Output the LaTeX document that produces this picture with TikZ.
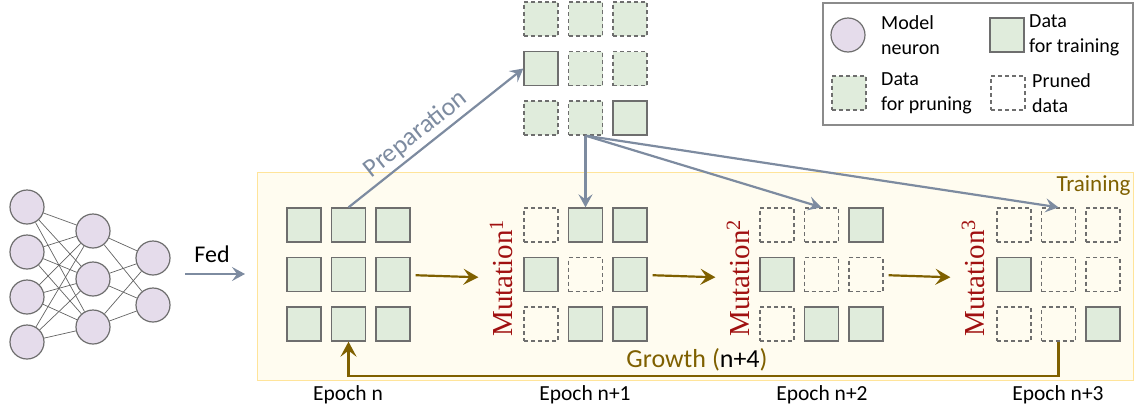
\documentclass[tikz,border=0pt]{standalone}
\usepackage{fontspec}
\newfontfamily\calibri{Carlito}
\newfontfamily\cambria{Liberation Serif}
\usetikzlibrary{arrows.meta}

\definecolor{neuronfill}{HTML}{E5DCEB}
\definecolor{datafill}{HTML}{E0ECDC}
\definecolor{edgegray}{HTML}{6E6E6E}
\definecolor{slate}{HTML}{7D8BA0}
\definecolor{goldbrown}{HTML}{7F6000}
\definecolor{stagefill}{HTML}{FFFCF0}
\definecolor{stageline}{HTML}{FFE49A}
\definecolor{mutred}{HTML}{A01010}

% 3x3 grid of data cells: name, x of first column, y of first row, nine styles
\newcommand{\datagrid}[4]{%
  \foreach \t [count=\i from 0] in {#4} {
    \pgfmathtruncatemacro{\gr}{div(\i,3)+1}
    \pgfmathtruncatemacro{\gc}{mod(\i,3)+1}
    \node[\t] (#1-\gr\gc) at ({#2+(\gc-1)*44.5},{#3+(\gr-1)*49.5}) {};
  }}

\begin{document}
\begin{tikzpicture}[x=1pt,y=-1pt,
  neuron/.style={circle, draw=edgegray, fill=neuronfill, line width=1.2pt, minimum size=34pt, inner sep=0pt},
  synapse/.style={draw=edgegray!90!black, line width=0.7pt},
  trainbox/.style={draw=edgegray, fill=datafill, line width=1.3pt, minimum size=34pt, inner sep=0pt},
  prunebox/.style={trainbox, dash pattern=on 4pt off 3pt},
  cutbox/.style={prunebox, fill=none},
  stage/.style={draw=stageline, fill=stagefill, line width=1.2pt, inner sep=0pt},
  preparrow/.style={draw=slate, line width=2.2pt, -{Stealth[length=13pt,width=14pt,inset=5pt]}},
  growarrow/.style={draw=goldbrown, line width=2.2pt, -{Stealth[length=15pt,width=16pt,inset=6pt]}},
  mutlabel/.style={rotate=90, text=mutred, inner sep=1pt, font=\cambria\fontsize{29}{33}\selectfont},
  plain/.style={font=\calibri\fontsize{21.5}{25}\selectfont},
  keytext/.style={anchor=west, align=left, inner sep=0pt, font=\calibri\fontsize{20}{25}\selectfont}]
  \useasboundingbox (0,0) rectangle (1135,410);

  % training area
  \node[stage, anchor=north west, minimum width=876pt, minimum height=208pt] (stage) at (257,172) {};
  \node[plain, text=goldbrown, anchor=east, font=\calibri\fontsize{23}{27}\selectfont] (trainlbl) at (1134,186) {Training};

  % model
  \node[neuron] (n11) at (27,207) {};
  \node[neuron] (n12) at (27,252) {};
  \node[neuron] (n13) at (27,297) {};
  \node[neuron] (n14) at (27,342) {};
  \node[neuron] (n21) at (93,231) {};
  \node[neuron] (n22) at (93,279) {};
  \node[neuron] (n23) at (93,327) {};
  \node[neuron] (n31) at (153,258) {};
  \node[neuron] (n32) at (153,305) {};
  \foreach \a in {1,...,4}
    \foreach \b in {1,2,3}
      \draw[synapse] (n1\a) -- (n2\b);
  \foreach \a in {1,2,3}
    \foreach \b in {1,2}
      \draw[synapse] (n2\a) -- (n3\b);

  % fed
  \node[plain, font=\calibri\fontsize{24}{28}\selectfont] (fed) at (212,254) {Fed};
  \coordinate (fedL) at (185,274);
  \coordinate (fedR) at (245,274);
  \draw[preparrow] (fedL) -- (fedR);

  % data grids
  \datagrid{pool}{541}{19}{prunebox,prunebox,prunebox,trainbox,prunebox,prunebox,prunebox,prunebox,trainbox}
  \datagrid{g1}{304}{225}{trainbox,trainbox,trainbox,trainbox,trainbox,trainbox,trainbox,trainbox,trainbox}
  \datagrid{g2}{541}{225}{cutbox,trainbox,trainbox,trainbox,cutbox,trainbox,cutbox,trainbox,trainbox}
  \datagrid{g3}{777}{225}{cutbox,cutbox,trainbox,trainbox,cutbox,cutbox,cutbox,trainbox,trainbox}
  \datagrid{g4}{1014}{225}{cutbox,cutbox,cutbox,trainbox,cutbox,cutbox,cutbox,cutbox,trainbox}

  % mutations
  \node[mutlabel] (mut1) at (501,278) {Mutation\textsuperscript{1}};
  \node[mutlabel] (mut2) at (738,278) {Mutation\textsuperscript{2}};
  \node[mutlabel] (mut3) at (973,278) {Mutation\textsuperscript{3}};
  \draw[growarrow, shorten <=5pt, shorten >=10pt] (g1-23) -- (mut1);
  \draw[growarrow, shorten <=5pt, shorten >=10pt] (g2-23) -- (mut2);
  \draw[growarrow, shorten <=5pt, shorten >=10pt] (g3-23) -- (mut3);

  % preparation
  \draw[preparrow] (g1-12.north) -- node[pos=0.44, sloped, above=0pt, text=slate, font=\calibri\fontsize{26}{30}\selectfont] (preplbl) {Preparation} (pool-21.west);
  \draw[preparrow] (pool-32.south) -- (g2-12.north);
  \draw[preparrow] (pool-32.south) -- (g3-12.north);
  \draw[preparrow] (pool-32.south) -- (g4-12.north);

  % growth
  \coordinate (gback) at (700,376);
  \draw[growarrow] (g4-32.south) |- (gback) -| (g1-32.south);
  \node[plain, text=goldbrown, font=\calibri\fontsize{26}{30}\selectfont] (growlbl) at (697,360) {Growth (\textcolor{black}{n+4})};

  % epochs
  \node[plain] (ep0) at (348,395) {Epoch n};
  \node[plain] (ep1) at (585,395) {Epoch n+1};
  \node[plain] (ep2) at (822,395) {Epoch n+2};
  \node[plain] (ep3) at (1058,395) {Epoch n+3};

  % legend
  \draw[draw=edgegray!80, line width=1.2pt] (823,3) rectangle (1133,125);
  \node[neuron] (keyneuron) at (848,35) {};
  \node[keytext] (keyneuronlbl) at (881,35) {Model\\neuron};
  \node[trainbox] (keytrain) at (1007,35) {};
  \node[keytext] (keytrainlbl) at (1029,35) {Data\\for training};
  \node[prunebox] (keyprune) at (849,93) {};
  \node[keytext] (keyprunelbl) at (881,93) {Data\\for pruning};
  \node[cutbox] (keycut) at (1008,93) {};
  \node[keytext] (keycutlbl) at (1032,93) {Pruned\\data};
\end{tikzpicture}
\end{document}
